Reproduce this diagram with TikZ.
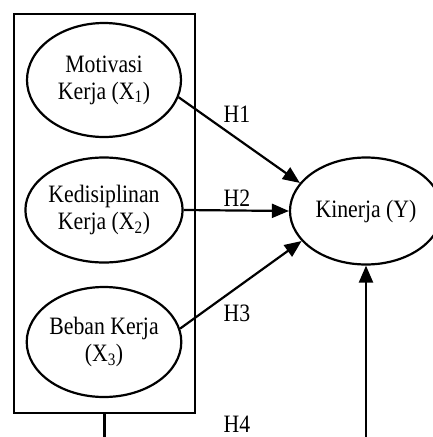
\documentclass[tikz,border=0pt]{standalone}
\usepackage{fontspec}
\setmainfont{Liberation Serif}[FakeStretch=0.87]
\usetikzlibrary{arrows.meta, shapes.geometric}

\begin{document}
\begin{tikzpicture}[x=1pt, y=-1pt, >={Triangle[length=17pt, width=14pt]}, line width=2.2pt,
  every node/.style={font=\fontsize{25}{27}\selectfont, inner sep=0pt},
  var/.style={draw, ellipse, align=center, minimum width=154pt, minimum height=112pt}]
  \useasboundingbox (0,0) rectangle (433,437);
  \clip (0,0) rectangle (433,437);

  % Nodes
  \node[draw, minimum width=181pt, minimum height=399pt] (G) at (104.5,213.5) {};
  \node[var, minimum height=114pt] (X1) at (104,80) {Motivasi\\Kerja (X\textsubscript{1})};
  \node[var, minimum height=105pt] (X2) at (104,210) {Kedisiplinan\\Kerja (X\textsubscript{2})};
  \node[var, minimum height=110pt] (X3) at (104,342) {Beban Kerja\\(X\textsubscript{3})};
  \node[var, minimum width=152pt, minimum height=107pt] (Y) at (366,211) {Kinerja (Y)};
  \coordinate (Gout) at (104.5,440);
  \coordinate (Yin) at (366,440);

  % Labels
  \node (H1) at (237,114) {H1};
  \node (H2) at (237,198) {H2};
  \node (H3) at (237,313) {H3};
  \node (H4) at (237,424) {H4};

  % Arrows
  \draw[->] (X1.-13) -- (Y.157);
  \draw[->] (X2.east) -- (Y.west);
  \draw[->] (X3.10) -- (Y.205);
  \draw[->] (Yin) -- (Y.south);
  \draw (G.south) -- (Gout);
\end{tikzpicture}
\end{document}
